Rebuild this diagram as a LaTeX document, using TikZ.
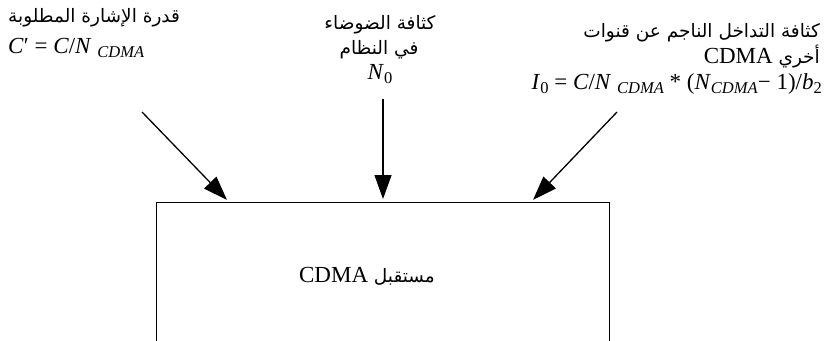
\documentclass[tikz,border=0pt]{standalone}
\usepackage{fontspec}
\setmainfont{Liberation Serif}
\newfontfamily\arabicfont[Script=Arabic]{DejaVu Sans}
\TeXXeTstate=1
\usetikzlibrary{arrows.meta}
\newcommand\artxt[1]{{\arabicfont\fontsize{18.5}{20}\selectfont\beginR #1\endR}}
\newcommand\sbs[1]{\raisebox{-0.4ex}{\fontsize{16.5}{16}\selectfont #1}}
\tikzset{
  lbl/.style={inner sep=0pt, font=\fontsize{23}{22}\selectfont},
  arr/.style={line width=1.3pt, -{Triangle[length=24pt,width=17pt]}, shorten >=3pt},
  rxbox/.style={draw, line width=1.4pt, minimum width=453pt, minimum height=200pt, anchor=north west, inner sep=0pt}
}
\begin{document}
\begin{tikzpicture}[x=1pt,y=-1pt]
\useasboundingbox (0,0) rectangle (826,340);
\clip (0,0) rectangle (826,340);
\fill[white] (0,0) rectangle (826,340);
% receiver box
\node[rxbox] (rx) at (156,202) {};
\node[lbl, anchor=base] (rxl) at (367,282) {CDMA \artxt{مستقبل}};
% left label
\node[lbl, anchor=base west] (l1) at (8,22) {\artxt{قدرة الإشارة المطلوبة}};
\node[lbl, anchor=base west] (l2) at (8,53) {\textit{C}′ = \textit{C}/\textit{N} \sbs{\textit{CDMA}}};
% middle label
\node[lbl, anchor=base] (m1) at (380,29) {\artxt{كثافة الضوضاء}};
\node[lbl, anchor=base] (m2) at (379,54) {\artxt{في النظام}};
\node[lbl, anchor=base] (m3) at (380,79) {\textit{N}\sbs{0}};
% right label
\node[lbl, anchor=base east] (r1) at (820,37) {\artxt{كثافة التداخل الناجم عن قنوات}};
\node[lbl, anchor=base east] (r2) at (820,63) {CDMA \artxt{أخري}};
\node[lbl, anchor=base east] (r3) at (822,89) {\textit{I}\sbs{0} = \textit{C}/\textit{N} \sbs{\textit{CDMA}} * (\textit{N}\sbs{\textit{CDMA}}− 1)/\textit{b}\sbs{2}};
% arrows
\coordinate (s1) at (142,112);
\coordinate (s2) at (383,99);
\coordinate (s3) at (617,112);
\path (rx.north west) ++(73,0) coordinate (t1);
\path (rx.north west) ++(227,0) coordinate (t2);
\path (rx.north west) ++(375,0) coordinate (t3);
\draw[arr] (s1) -- (t1);
\draw[arr] (s2) -- (t2);
\draw[arr] (s3) -- (t3);
\end{tikzpicture}
\end{document}
